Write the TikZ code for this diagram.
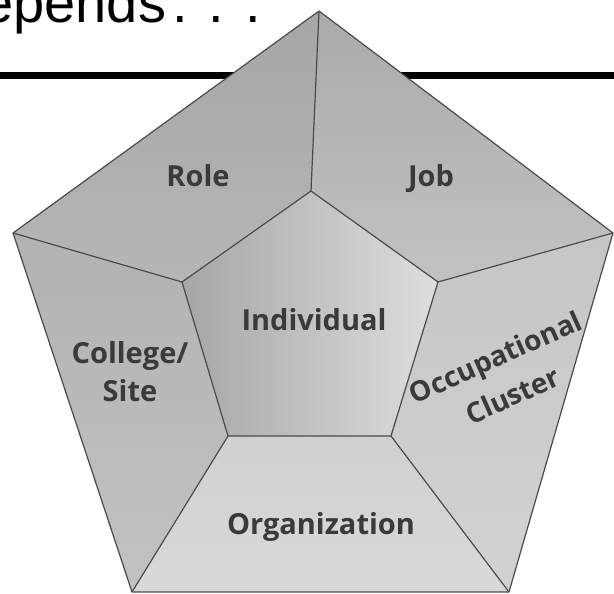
\documentclass[tikz,border=0pt]{standalone}
\usepackage{fontspec}
\setmainfont{Liberation Sans}
\newfontfamily\labelfont{Open Sans}[BoldFont={* Bold}]
\begin{document}
\begin{tikzpicture}[x=1pt,y=1pt,
  seg/.style={draw=edgegray, line width=1.2pt, line join=round},
  lbl/.style={font=\labelfont\bfseries\fontsize{29}{38}\selectfont, text=labelgray, inner sep=0pt},
  title/.style={font=\fontsize{56}{60}\selectfont, inner sep=0pt}]
\definecolor{edgegray}{HTML}{4A4A4A}
\definecolor{labelgray}{HTML}{3A3A3A}
\useasboundingbox (0,0) rectangle (614,594);
\clip (0,0) rectangle (614,594);
\fill[white] (0,0) rectangle (614,594);
% title and rule
\node[title, anchor=base east] (ttl) at (261,571) {Depends\kern-9pt{} . . .};
\coordinate (rl) at (0,518);
\coordinate (rr) at (614,518);
\draw[line width=7pt] (rl) -- (rr);
% vertices
\coordinate (O1) at (319,583);
\coordinate (O2) at (613,361);
\coordinate (O3) at (509,2);
\coordinate (O4) at (132,2);
\coordinate (O5) at (13,361);
\coordinate (I1) at (311,403);
\coordinate (I2) at (438,312);
\coordinate (I3) at (391,158);
\coordinate (I4) at (228,158);
\coordinate (I5) at (182,312);
% segments
\shade[top color={rgb,255:red,166;green,166;blue,166}, bottom color={rgb,255:red,182;green,182;blue,182}] (O5) -- (O1) -- (I1) -- (I5) -- cycle;
\shade[top color={rgb,255:red,170;green,170;blue,170}, bottom color={rgb,255:red,194;green,194;blue,194}] (O1) -- (O2) -- (I2) -- (I1) -- cycle;
\shade[top color={rgb,255:red,198;green,198;blue,198}, bottom color={rgb,255:red,210;green,210;blue,210}] (O2) -- (O3) -- (I3) -- (I2) -- cycle;
\shade[top color={rgb,255:red,208;green,208;blue,208}, bottom color={rgb,255:red,217;green,217;blue,217}] (O3) -- (O4) -- (I4) -- (I3) -- cycle;
\shade[top color={rgb,255:red,178;green,178;blue,178}, bottom color={rgb,255:red,194;green,194;blue,194}] (O4) -- (O5) -- (I5) -- (I4) -- cycle;
\shade[left color={rgb,255:red,166;green,166;blue,166}, right color={rgb,255:red,222;green,222;blue,222}] (I1) -- (I2) -- (I3) -- (I4) -- (I5) -- cycle;
% edges
\draw[seg] (O1) -- (O2) -- (O3) -- (O4) -- (O5) -- cycle;
\draw[seg] (I1) -- (I2) -- (I3) -- (I4) -- (I5) -- cycle;
\draw[seg] (I1) -- (O1);
\draw[seg] (I2) -- (O2);
\draw[seg] (I3) -- (O3);
\draw[seg] (I4) -- (O4);
\draw[seg] (I5) -- (O5);
% labels
\node[lbl, anchor=base] (role) at (198,407) {Role};
\node[lbl, anchor=base] (job) at (431,407) {Job};
\node[lbl, anchor=base] (ind) at (314,263) {Individual};
\node[lbl, anchor=base] (org) at (321,59) {Organization};
\node[lbl, align=center] (col) at (130,222) {College/\\Site};
\node[lbl, align=center, rotate=24, font=\labelfont\bfseries\fontsize{28}{42}\selectfont] (occ) at (504,218) {Occupational\\Cluster};
\end{tikzpicture}
\end{document}
